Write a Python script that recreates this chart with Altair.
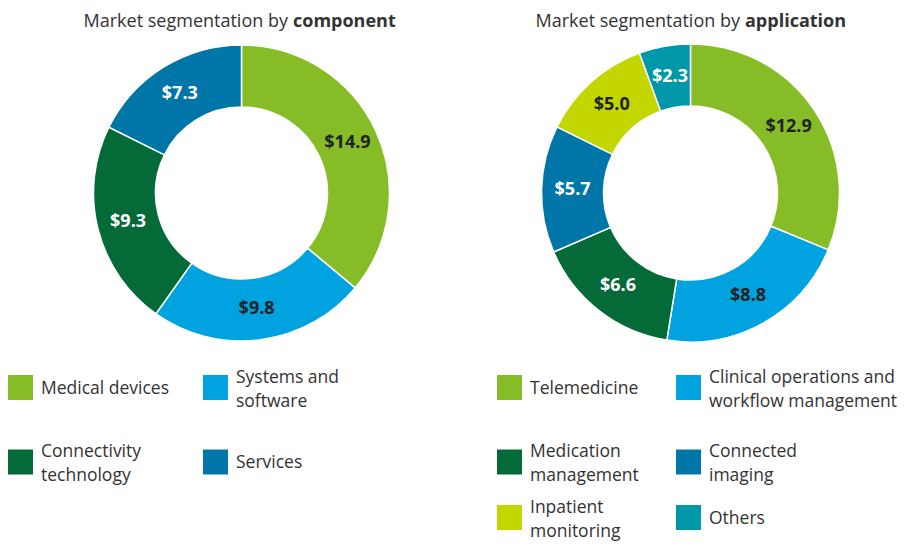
import altair as alt
import pandas as pd

# ---- data ----
comp_names = ["Medical devices", "Systems and software", "Connectivity technology", "Services"]
comp_values = [14.9, 9.8, 9.3, 7.3]
comp_colors = ["#86bc25", "#00a3e0", "#046a38", "#0076a8"]
comp_legend = ["Medical devices", "Systems and\nsoftware",
               "Connectivity\ntechnology", "Services"]

app_names = ["Telemedicine", "Clinical operations and workflow management",
             "Medication management", "Connected imaging",
             "Inpatient monitoring", "Others"]
app_values = [12.9, 8.8, 6.6, 5.7, 5.0, 2.3]
app_colors = ["#86bc25", "#00a3e0", "#046a38", "#0076a8", "#c4d600", "#0097a9"]
app_legend = ["Telemedicine", "Clinical operations and\nworkflow management",
              "Medication\nmanagement", "Connected\nimaging",
              "Inpatient\nmonitoring", "Others"]

# slices whose value label is printed in white
white_label_names = ["Connectivity technology", "Services", "Medication management",
                     "Connected imaging", "Others"]

title_normal = ["Market segmentation by ", "Market segmentation by "]
title_bold = ["component", "application"]

FONT = "Open Sans"
TEXT = "#333333"
LEG_FS = 17.5

all_names = comp_names + app_names
all_colors = comp_colors + app_colors
color_scale = alt.Scale(domain=all_names, range=all_colors)


def donut(names, values, cx, cy, r_out, r_in):
    df = pd.DataFrame({
        "name": names,
        "value": values,
        "idx": list(range(len(names))),
        "label": ["$%.1f" % v for v in values],
    })
    base = alt.Chart(df).encode(
        theta=alt.Theta("value:Q", stack=True),
        order=alt.Order("idx:Q", sort="ascending"),
    )
    arcs = base.mark_arc(outerRadius=r_out, innerRadius=r_in,
                         stroke="white", strokeWidth=1.5).encode(
        x=alt.value(cx), y=alt.value(cy),
        color=alt.Color("name:N", scale=color_scale, legend=None),
    )
    labels = base.mark_text(radius=(r_out + r_in) / 2, font=FONT,
                            fontSize=18, fontWeight="bold").encode(
        x=alt.value(cx), y=alt.value(cy),
        text="label:N",
        fill=alt.condition(
            alt.FieldOneOfPredicate(field="name", oneOf=white_label_names),
            alt.value("#ffffff"), alt.value("#222222")),
    )
    return alt.layer(arcs, labels)


left = donut(comp_names, comp_values, 233.5, 185, 148, 86)
right = donut(app_names, app_values, 682.5, 185, 149, 87)

# ---- custom legend (2 columns per donut, row-major) ----
leg_rows = []
for i, (n, t) in enumerate(zip(comp_names, comp_legend)):
    leg_rows.append({"name": n, "text": t, "col": i % 2, "row": i // 2})
for i, (n, t) in enumerate(zip(app_names, app_legend)):
    leg_rows.append({"name": n, "text": t, "col": 2 + i % 2, "row": i // 2})
leg_df = pd.DataFrame(leg_rows)

xs = alt.X("col:Q", scale=alt.Scale(domain=[0, 1, 2, 3],
                                    range=[12.5, 207.5, 501.5, 680.5],
                                    nice=False, zero=False), axis=None)
ys = alt.Y("row:Q", scale=alt.Scale(domain=[0, 1, 2],
                                    range=[379.5, 454, 509.5],
                                    nice=False, zero=False), axis=None)
leg_base = alt.Chart(leg_df).encode(x=xs, y=ys)
leg_sq = leg_base.mark_square(size=625, opacity=1, strokeWidth=0).encode(
    color=alt.Color("name:N", scale=color_scale, legend=None))
multi = "indexof(datum.text, '\\n') >= 0"
leg_tx1 = leg_base.transform_filter("!(" + multi + ")").mark_text(
    align="left", baseline="middle", dx=20.5, dy=1,
    font=FONT, fontSize=LEG_FS, color=TEXT).encode(text="text:N")
leg_tx2 = leg_base.transform_filter(multi).mark_text(
    align="left", baseline="middle", dx=20.5, dy=-10,
    font=FONT, fontSize=LEG_FS, color=TEXT,
    lineBreak="\n", lineHeight=24).encode(text="text:N")

# ---- titles ----
tdf = pd.DataFrame({"normal": title_normal, "bold": title_bold})
def title_part(i, field, x, align, weight):
    return alt.Chart(tdf.iloc[[i]]).mark_text(
        font=FONT, fontSize=18, color=TEXT, align=align,
        baseline="alphabetic", fontWeight=weight).encode(
        text=f"{field}:N", x=alt.value(x), y=alt.value(19))

t1n = title_part(0, "normal", 280, "right", "normal")
t1b = title_part(0, "bold", 285, "left", "bold")
t2n = title_part(1, "normal", 732, "right", "normal")
t2b = title_part(1, "bold", 737, "left", "bold")

chart = alt.layer(left, right, leg_sq, leg_tx1, leg_tx2,
                  t1n, t1b, t2n, t2b).resolve_scale(
    theta="independent"
).properties(
    width=894, height=533, padding=0, autosize="none", background="white"
).configure_view(stroke=None)

chart.save("out.html", embed_options={"renderer": "svg", "actions": False})
